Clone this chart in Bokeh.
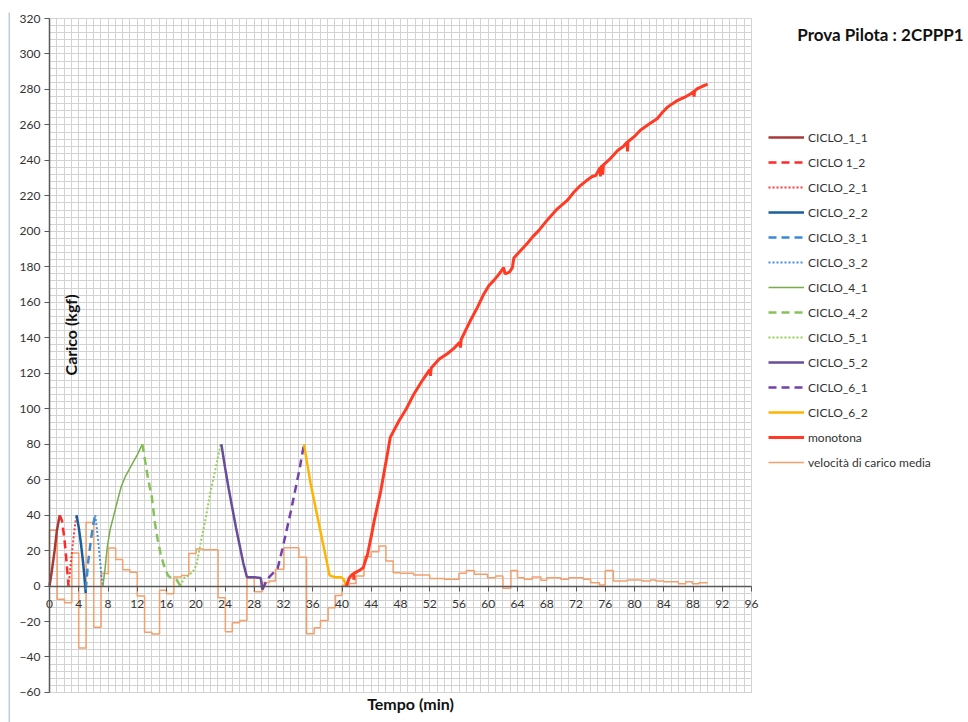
import math
from bokeh.plotting import figure
from bokeh.models import Legend, LegendItem, Label, SingleIntervalTicker, Range1d
from bokeh.layouts import row
from bokeh.embed import file_html
from bokeh.resources import INLINE

# ---------------- data ----------------
c11_x = [0.0, 0.3, 0.7, 1.0, 1.4]
c11_y = [0, 8, 20, 31, 40]
c12_x = [1.4, 1.7, 2.0, 2.2, 2.4, 2.6]
c12_y = [40, 37, 28, 20, 10, 0]
c21_x = [2.6, 2.9, 3.2, 3.45, 3.7]
c21_y = [0, 12, 24, 33, 40]
c22_x = [3.7, 4.0, 4.3, 4.6, 4.8, 4.95]
c22_y = [40, 33, 24, 13, 4, -4]
c31_x = [4.95, 5.3, 5.7, 6.0, 6.25]
c31_y = [-2, 14, 27, 35, 40]
c32_x = [6.25, 6.6, 6.9, 7.1, 7.3]
c32_y = [40, 28, 15, 6, 0]
c41_x = [7.3, 7.6, 7.9, 8.3, 8.8, 9.3, 9.8, 10.4, 11.2, 12.0, 12.7]
c41_y = [0, 10, 22, 32, 40, 48, 56, 62, 68, 74, 80]
c42_x = [12.7, 13.1, 13.5, 14.0, 14.4, 14.8, 15.2, 15.7, 16.2, 16.8, 17.4, 17.9]
c42_y = [80, 70, 60, 50, 36, 26, 18, 11, 6, 4, 3.5, 0]
c51_x = [17.9, 18.4, 19.0, 19.6, 20.1, 20.7, 21.4, 22.0, 22.7, 23.4]
c51_y = [0, 4.5, 6, 8, 12, 25, 39, 53, 66, 80]
c52_x = [23.5, 24.0, 24.5, 25.0, 25.5, 26.0, 26.5, 27.0, 28.0, 28.9, 29.1]
c52_y = [80, 67, 55, 44, 33, 23, 13, 5, 5, 4.5, -2]
c61_x = [29.1, 29.8, 30.5, 31.2, 31.8, 32.4, 33.0, 33.6, 34.2, 34.8]
c61_y = [-2, 4, 7, 10, 20, 31, 42, 54, 66, 80]
c62_x = [34.8, 35.2, 35.7, 36.2, 36.7, 37.2, 37.7, 38.3, 39.0, 39.8, 40.2, 40.6]
c62_y = [80, 70, 58, 48, 38, 28, 18, 6, 5, 5, 4, 0]

mono_x = [40.6, 41.0, 41.4, 41.6, 41.62, 41.65, 42.0, 42.4, 42.9, 43.5, 44.0, 44.4,
          45.3, 46.2, 46.6, 47.8, 48.8, 49.8, 51.0, 52.0, 52.1, 52.2, 53.3, 54.4,
          55.3, 56.1, 56.2, 56.3, 57.0, 57.6, 58.5, 59.4, 60.1, 60.8, 61.5, 62.1,
          62.3, 62.9, 63.3, 63.5, 64.4, 65.3, 66.1, 66.9, 68.2, 69.45, 70.8, 71.7,
          72.6, 73.4, 74.2, 74.7, 75.3, 75.35, 75.45, 75.6, 75.65, 75.75, 76.7, 77.7,
          78.5, 79.0, 79.05, 79.1, 80.0, 80.8, 82.0, 83.1, 83.8, 84.5, 85.2, 85.9,
          86.8, 87.7, 88.1, 88.15, 88.2, 88.6, 89.3, 90.0]
mono_y = [0, 4.7, 6.5, 7.0, 3.5, 7.2, 8.0, 8.8, 10.4, 18, 28, 36.7,
          53.6, 74.3, 83.8, 93.2, 100, 108, 116, 122, 118.5, 123, 128, 131,
          134, 137.5, 134.5, 139, 145, 150, 157, 164.7, 169.5, 172.5, 176, 179.5,
          176, 177, 179.5, 185, 189, 193, 197, 200.4, 207, 212.7, 217.4, 222,
          225.8, 228.5, 230.9, 231.5, 236, 231, 236.5, 237, 232, 237.5, 241, 245.6,
          248, 250.3, 245, 250.5, 253.5, 257, 260.5, 263.5, 267, 270, 272, 273.9,
          275.5, 277.6, 278.8, 276, 279, 280.5, 281.8, 283]

vel_x = [0, 0, 1.05, 2.05, 3.05, 4.0, 5.0, 6.05, 7.05, 8.05, 9.05, 10.0, 11.0, 12.0,
         13.0, 14.0, 15.05, 16.0, 17.0, 18.05, 19.05, 20.05, 21.0, 23.05, 24.05, 25.0,
         26.0, 27.0, 28.0, 29.1, 30.1, 30.9, 32.05, 34.1, 35.15, 36.2, 37.05, 38.1,
         39.1, 40.0, 41.0, 41.9, 43.0, 44.0, 45.05, 46.0, 47.0, 48.0, 49.8, 52.0, 54.0,
         56.0, 57.0, 58.1, 59.9, 61.0, 62.0, 63.1, 64.0, 64.9, 66.0, 67.2, 68.0, 69.9,
         71.0, 73.0, 74.0, 75.2, 76.0, 77.1, 79.0, 81.0, 82.2, 82.9, 84.0, 86.0, 87.0,
         87.9, 88.8, 90.0]
vel_y = [0, 31.4, -7.5, -9.4, 18.6, -35.0, 35.8, -23.3, 7.1, 21.4, 15.0, 9.2, 7.8, -5.6,
         -26.0, -27.1, -2.4, -4.3, 5.1, 6.0, 18.3, 20.9, 20.5, -6.6, -25.8, -20.7,
         -19.4, 4.5, -3.2, 2.0, 2.8, 9.4, 21.6, 16.2, -26.9, -23.5, -19.4, -12.2,
         -5.3, 0.5, 1.5, 5.6, 16.6, 19.4, 22.6, 14.1, 7.5, 7.2, 6.2, 4.3, 3.8,
         7.2, 8.8, 6.6, 4.7, 5.6, -1.3, 8.8, 4.7, 3.8, 5.1, 3.2, 4.7, 3.8,
         4.7, 3.8, 1.9, 0.6, 8.8, 2.8, 3.4, 2.8, 3.4, 2.8, 2.4, 1.3, 2.4,
         1.3, 1.9, 1.9]

series_names = ["CICLO_1_1", "CICLO 1_2", "CICLO_2_1", "CICLO_2_2", "CICLO_3_1",
                "CICLO_3_2", "CICLO_4_1", "CICLO_4_2", "CICLO_5_1", "CICLO_5_2",
                "CICLO_6_1", "CICLO_6_2", "monotona", "velocità di carico media"]

X_MIN, X_MAX = 0, 96
Y_MIN, Y_MAX = -60, 320

FONT = "Lato"
H = 722
STRIP_W = 10
W = 968 - STRIP_W
FRAME_T = 13  # the canvas frame starts this far below the top of the page

# page-pixel geometry of the plotting area (axes box)
AX_L, AX_R, AX_T, AX_B = 49, 751, 19, 692
sx = (AX_R - AX_L) / (X_MAX - X_MIN)
sy = (AX_B - AX_T) / (Y_MAX - Y_MIN)
x_lo = X_MIN - (AX_L - STRIP_W) / sx
x_hi = X_MAX + (968 - AX_R) / sx
y_lo = Y_MIN - (H - AX_B) / sy
y_hi = Y_MAX + (AX_T - FRAME_T) / sy


def drop_title(fig):
    try:
        fig.title = None
    except Exception:
        fig.title.visible = False


# thin light-blue border strip at the far left
p0 = figure(width=STRIP_W, height=H, output_backend="svg", toolbar_location=None,
            x_axis_type=None, y_axis_type=None, min_border_left=8, min_border_right=0,
            min_border_top=12, min_border_bottom=0)
drop_title(p0)
p0.outline_line_color = None
p0.background_fill_color = "#bccfd9"
p0.border_fill_color = "white"
p0.grid.visible = False

# main chart: the frame covers the canvas, axes sit at x=0 / y=0
p = figure(width=W, height=H, output_backend="svg", toolbar_location=None,
           x_range=Range1d(x_lo, x_hi), y_range=Range1d(y_lo, y_hi),
           min_border_left=0, min_border_right=0, min_border_top=0,
           min_border_bottom=0)
drop_title(p)
p.outline_line_color = None
p.background_fill_color = "white"
p.border_fill_color = "white"

p.xaxis.fixed_location = 0
p.yaxis.fixed_location = 0
p.xaxis.bounds = (X_MIN, X_MAX)
p.yaxis.bounds = (Y_MIN, Y_MAX)
p.xaxis.ticker = SingleIntervalTicker(interval=4, num_minor_ticks=4)
p.yaxis.ticker = SingleIntervalTicker(interval=20, num_minor_ticks=5)
for ax in (p.xaxis, p.yaxis):
    ax.axis_line_color = "#595959"
    ax.axis_line_width = 1.5
    ax.major_tick_line_color = "#595959"
    ax.major_tick_out = 5
    ax.major_tick_in = 0
    ax.minor_tick_line_color = None
    ax.major_label_text_font = FONT
    ax.major_label_text_font_size = "12px"
    ax.major_label_text_color = "#333333"
p.yaxis.major_label_standoff = 4
p.xaxis.major_label_standoff = 9

p.xgrid.bounds = (X_MIN, X_MAX)
p.ygrid.bounds = (Y_MIN, Y_MAX)
try:
    p.xgrid.cross_bounds = (Y_MIN, Y_MAX)
    p.ygrid.cross_bounds = (X_MIN, X_MAX)
except AttributeError:
    pass
for g in (p.xgrid, p.ygrid):
    g.grid_line_color = "#d3d3d3"
    g.minor_grid_line_color = "#d3d3d3"
    g.grid_line_width = 1
    g.minor_grid_line_width = 1

styles = [
    (c11_x, c11_y, "#A8383A", 2.5, "solid"),
    (c12_x, c12_y, "#FF2A2A", 2.5, "8 5"),
    (c21_x, c21_y, "#FF3B3B", 2.0, "2 2"),
    (c22_x, c22_y, "#1A5E9E", 2.5, "solid"),
    (c31_x, c31_y, "#3A8AD6", 2.5, "8 5"),
    (c32_x, c32_y, "#4A8FD8", 2.0, "2 2"),
    (c41_x, c41_y, "#77AD4A", 1.5, "solid"),
    (c42_x, c42_y, "#86C25A", 2.5, "8 5"),
    (c51_x, c51_y, "#92CF55", 2.0, "2 2"),
    (c52_x, c52_y, "#6A4C9C", 2.5, "solid"),
    (c61_x, c61_y, "#7440AC", 2.5, "8 5"),
    (c62_x, c62_y, "#FFB400", 2.5, "solid"),
    (mono_x, mono_y, "#FF3B26", 3.0, "solid"),
]
VEL_COLOR = "#F4A06C"

r_vel = p.step(vel_x, vel_y, mode="after", line_color=VEL_COLOR, line_width=1.5)
renderers = []
for xs, ys, col, lw, dash in styles:
    renderers.append(p.line(xs, ys, line_color=col, line_width=lw, line_dash=dash))
renderers.append(r_vel)

items = [LegendItem(label=n, renderers=[r]) for n, r in zip(series_names, renderers)]
legend = Legend(items=items, location=(758, 249), orientation="vertical",
                label_text_font=FONT, label_text_font_size="12px",
                label_text_color="#333333", glyph_width=36, glyph_height=22,
                label_height=22, spacing=3, padding=5, margin=0, label_standoff=4,
                border_line_color=None, background_fill_alpha=0)
p.add_layout(legend)


def data_x(px):
    return X_MIN + (px - AX_L) / sx


def data_y(py):
    return Y_MAX - (py - AX_T) / sy


p.add_layout(Label(x=data_x(70), y=data_y(335), text="Carico (kgf)", angle=math.pi / 2,
                   text_align="center", text_baseline="middle", text_font=FONT,
                   text_font_style="bold", text_font_size="16px", text_color="#111111"))
p.add_layout(Label(x=data_x(410), y=data_y(703), text="Tempo (min)",
                   text_align="center", text_baseline="middle", text_font=FONT,
                   text_font_style="bold", text_font_size="16px", text_color="#111111"))
p.add_layout(Label(x=data_x(880), y=data_y(35), text="Prova Pilota : 2CPPP1",
                   text_align="center", text_baseline="middle", text_font=FONT,
                   text_font_style="bold", text_font_size="17px", text_color="#111111"))

layout = row(p0, p, spacing=0)
open("out.html", "w").write(file_html(layout, INLINE))
